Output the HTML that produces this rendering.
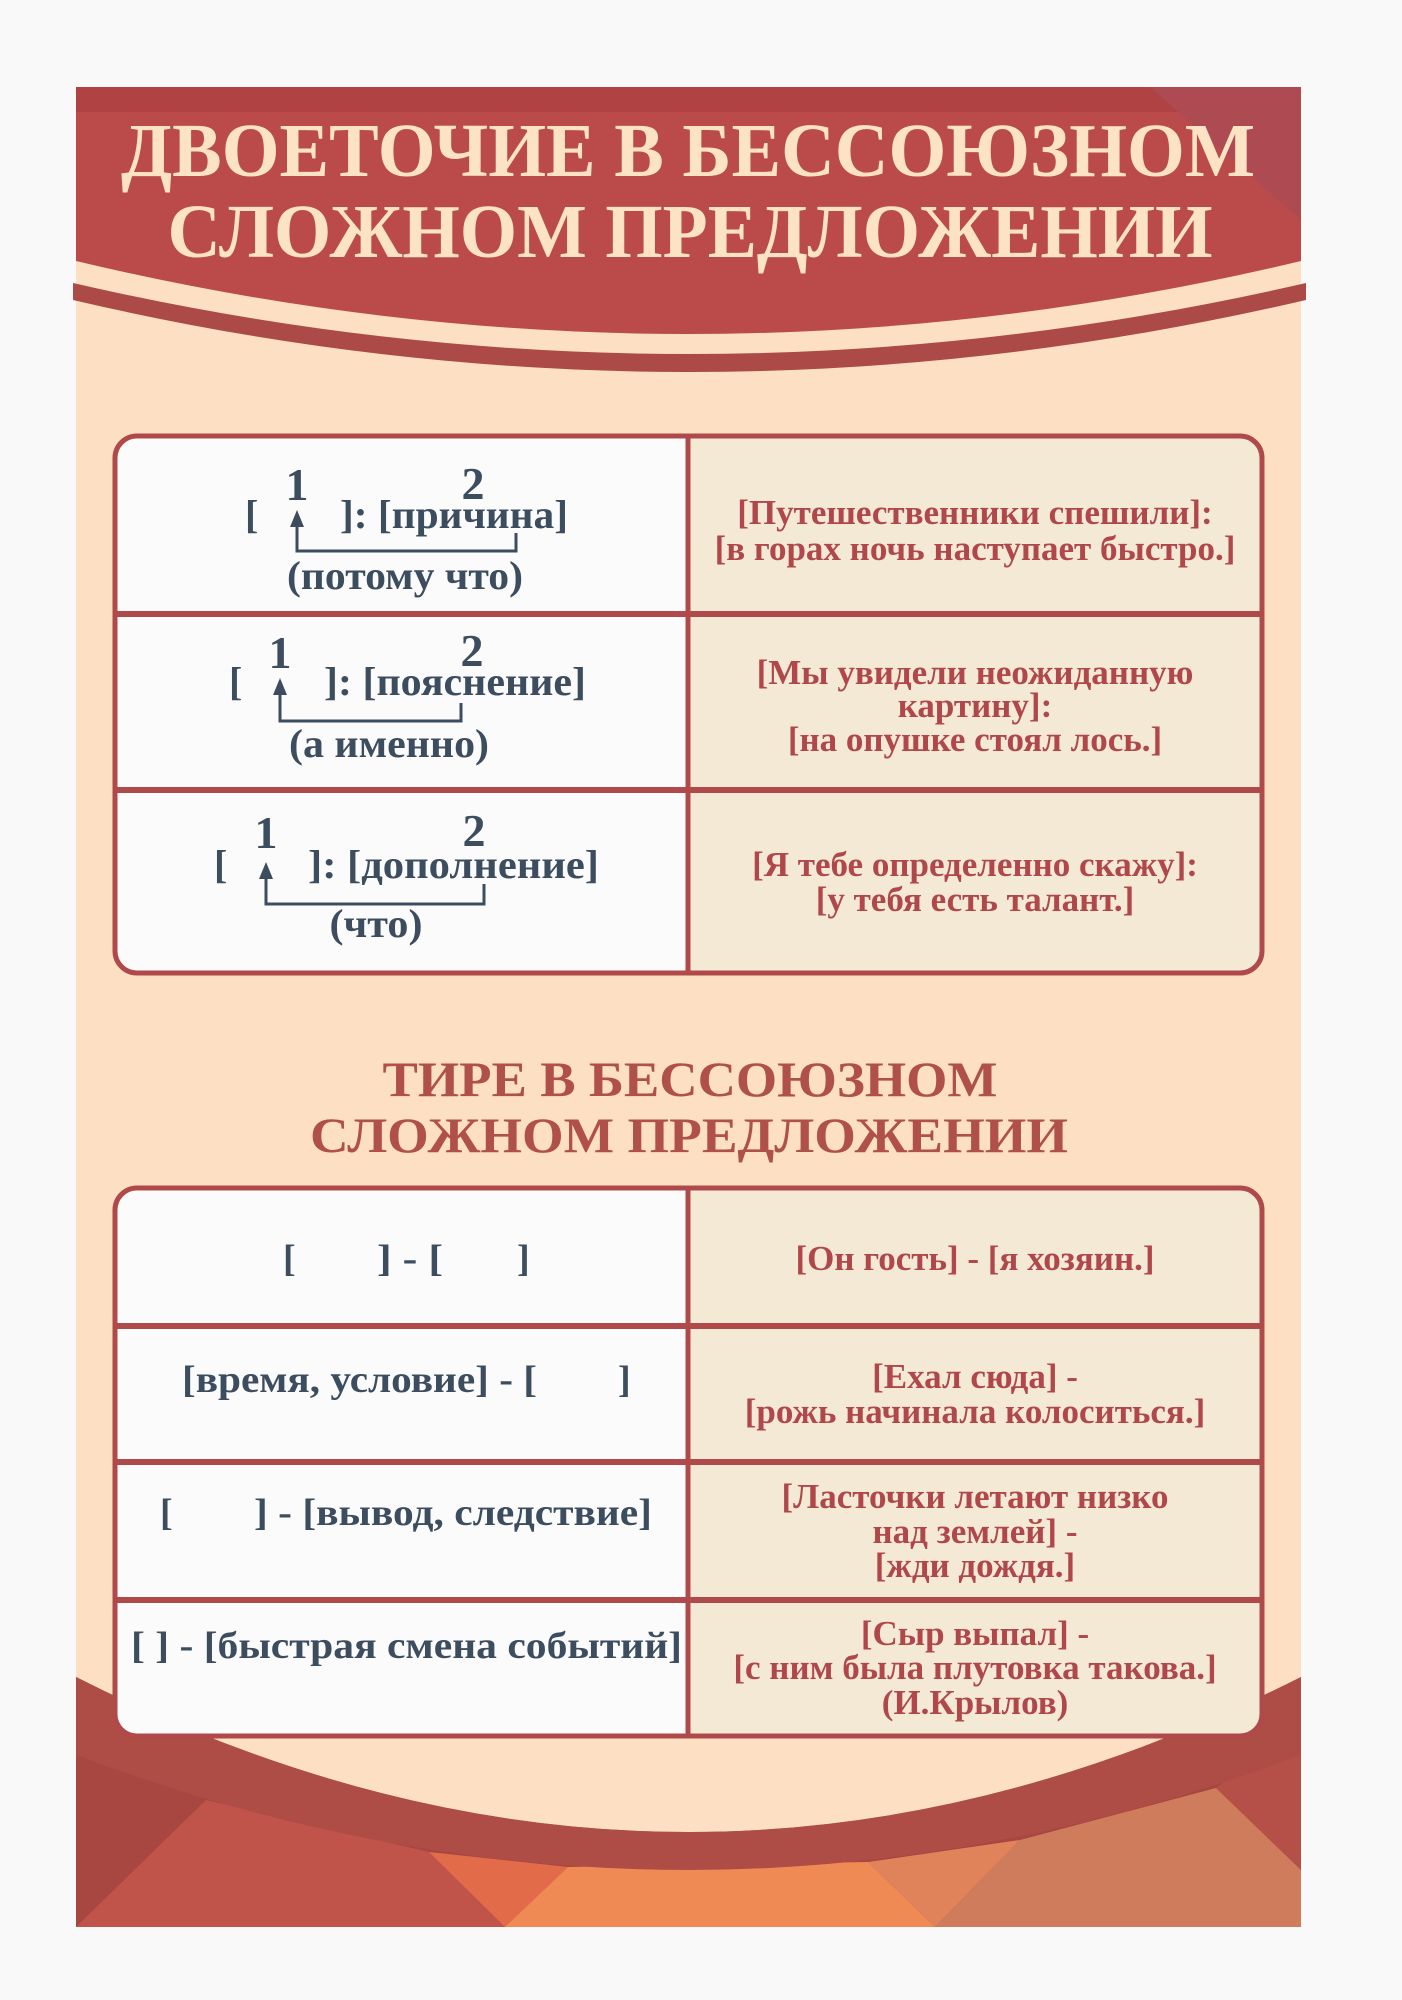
<!DOCTYPE html>
<html><head><meta charset="utf-8"><style>
html,body{margin:0;padding:0;background:#f9f9f9;}
svg{display:block;}
text{font-family:"Liberation Serif",serif;font-weight:bold;}
</style></head><body>
<svg width="1402" height="2000" viewBox="0 0 1402 2000" xmlns="http://www.w3.org/2000/svg">
<defs>
<clipPath id="t1"><rect x="115" y="436" width="1147" height="537" rx="22"/></clipPath>
<clipPath id="t2"><rect x="115" y="1188" width="1147" height="548" rx="22"/></clipPath>
</defs>
<rect x="0" y="0" width="1402" height="2000" fill="#f9f9f9"/>
<rect x="76" y="87" width="1225" height="1840" fill="#fde0c3"/>
<!-- header -->
<path d="M76,87 H1301 V261 Q688,407 76,261 Z" fill="#bb4b4b"/>
<path d="M76,87 H1301 V112 H76 Z" fill="#b14243"/>
<path d="M1150,87 H1301 V220 Z" fill="#ad4a52"/>
<path d="M73,283 Q688,425 1306,283 L1306,300 Q688,444 73,300 Z" fill="#ab4a47"/>
<text x="688" y="176" font-size="76" fill="#fde3c5" text-anchor="middle" textLength="1134" lengthAdjust="spacingAndGlyphs">ДВОЕТОЧИЕ В БЕССОЮЗНОМ</text>
<text x="690" y="257" font-size="76" fill="#fde3c5" text-anchor="middle" textLength="1045" lengthAdjust="spacingAndGlyphs">СЛОЖНОМ ПРЕДЛОЖЕНИИ</text>

<!-- bottom facets -->
<rect x="76" y="1677" width="1225" height="250" fill="#a84642"/>
<polygon points="206,1800 76,1927 505,1927 429,1852" fill="#c0544a"/>
<polygon points="429,1852 505,1927 568,1867" fill="#e26b4a"/>
<polygon points="568,1867 505,1927 935,1927 868,1862" fill="#f08a55"/>
<polygon points="868,1862 935,1927 1020,1840" fill="#e0825a"/>
<polygon points="1020,1840 935,1927 1301,1927 1301,1870 1216,1788" fill="#cf7c5c"/>
<polygon points="1216,1788 1301,1720 1301,1870" fill="#b45048"/>
<path d="M76,1600 L76,1677 Q688,1987 1301,1677 L1301,1600 Z" fill="#fde0c3"/>
<path d="M76,1677 Q688,1987 1301,1677 L1301,1755 Q688,1985 76,1755 Z" fill="#ae4c46"/>

<!-- table 1 -->
<g clip-path="url(#t1)">
<rect x="115" y="436" width="573" height="537" fill="#fbfbfb"/>
<rect x="688" y="436" width="574" height="537" fill="#f3e9d5"/>
</g>
<rect x="115" y="436" width="1147" height="537" rx="22" fill="none" stroke="#b04a4a" stroke-width="5"/>
<line x1="688" y1="436" x2="688" y2="973" stroke="#b04a4a" stroke-width="5"/>
<line x1="115" y1="614" x2="1262" y2="614" stroke="#b04a4a" stroke-width="6"/>
<line x1="115" y1="790" x2="1262" y2="790" stroke="#b04a4a" stroke-width="6"/>

<g fill="#3d4d60" font-size="40">
<text x="297" y="500" font-size="46" text-anchor="middle">1</text>
<text x="473" y="499" font-size="46" text-anchor="middle">2</text>
<text x="245" y="528">[</text>
<text x="340" y="528" textLength="228" lengthAdjust="spacingAndGlyphs">]: [причина]</text>
<text x="405" y="589" text-anchor="middle" textLength="236" lengthAdjust="spacingAndGlyphs">(потому что)</text>
<text x="280" y="668" font-size="46" text-anchor="middle">1</text>
<text x="472" y="666" font-size="46" text-anchor="middle">2</text>
<text x="229" y="695">[</text>
<text x="324" y="695" textLength="262" lengthAdjust="spacingAndGlyphs">]: [пояснение]</text>
<text x="389" y="757" text-anchor="middle" textLength="200" lengthAdjust="spacingAndGlyphs">(а именно)</text>
<text x="266" y="848" font-size="46" text-anchor="middle">1</text>
<text x="474" y="846" font-size="46" text-anchor="middle">2</text>
<text x="214" y="878">[</text>
<text x="308" y="878" textLength="291" lengthAdjust="spacingAndGlyphs">]: [дополнение]</text>
<text x="376" y="937" text-anchor="middle" textLength="93" lengthAdjust="spacingAndGlyphs">(что)</text>
</g>
<g stroke="#3d4d60" stroke-width="3" fill="none">
<polyline points="297,524 297,551 516,551 516,533"/>
<polyline points="280,692 280,721 461,721 461,703"/>
<polyline points="266,876 266,904 484,904 484,884"/>
<polyline points="361,1402 361,1425 580,1425 580,1400"/>
<polyline points="213,1546 213,1568 503,1568 503,1540"/>
<polyline points="152,1680 152,1702 441,1702 441,1674"/>
</g>
<g fill="#3d4d60">
<polygon points="297,510 290,527 304,527"/>
<polygon points="280,678 273,695 287,695"/>
<polygon points="266,862 259,879 273,879"/>
<polygon points="580,1387 572,1405 588,1405"/>
<polygon points="503,1527 495,1545 511,1545"/>
<polygon points="441,1661 433,1679 449,1679"/>
</g>

<g fill="#b0474a" font-size="35" text-anchor="middle">
<text x="975" y="524">[Путешественники спешили]:</text>
<text x="975" y="560">[в горах ночь наступает быстро.]</text>
<text x="975" y="684">[Мы увидели неожиданную</text>
<text x="975" y="717">картину]:</text>
<text x="975" y="751">[на опушке стоял лось.]</text>
<text x="975" y="876">[Я тебе определенно скажу]:</text>
<text x="975" y="911">[у тебя есть талант.]</text>
</g>

<!-- section title -->
<text x="690" y="1096" font-size="50" fill="#b0504a" text-anchor="middle" textLength="615" lengthAdjust="spacingAndGlyphs">ТИРЕ В БЕССОЮЗНОМ</text>
<text x="689" y="1152" font-size="50" fill="#b0504a" text-anchor="middle" textLength="758" lengthAdjust="spacingAndGlyphs">СЛОЖНОМ ПРЕДЛОЖЕНИИ</text>

<!-- table 2 -->
<g clip-path="url(#t2)">
<rect x="115" y="1188" width="573" height="548" fill="#fbfbfb"/>
<rect x="688" y="1188" width="574" height="548" fill="#f3e9d5"/>
</g>
<rect x="115" y="1188" width="1147" height="548" rx="22" fill="none" stroke="#b04a4a" stroke-width="5"/>
<line x1="688" y1="1188" x2="688" y2="1736" stroke="#b04a4a" stroke-width="5"/>
<line x1="115" y1="1326" x2="1262" y2="1326" stroke="#b04a4a" stroke-width="6"/>
<line x1="115" y1="1462" x2="1262" y2="1462" stroke="#b04a4a" stroke-width="6"/>
<line x1="115" y1="1600" x2="1262" y2="1600" stroke="#b04a4a" stroke-width="6"/>

<g fill="#3d4d60" font-size="38">
<text x="283" y="1271">[</text>
<text x="377" y="1271" textLength="66" lengthAdjust="spacingAndGlyphs">] - [</text>
<text x="517" y="1271">]</text>
<text x="182" y="1392" textLength="355" lengthAdjust="spacingAndGlyphs">[время, условие] - [</text>
<text x="618" y="1392">]</text>
<text x="160" y="1525">[</text>
<text x="254" y="1525" textLength="398" lengthAdjust="spacingAndGlyphs">] - [вывод, следствие]</text>
<text x="131" y="1658" textLength="551" lengthAdjust="spacingAndGlyphs">[ ] - [быстрая смена событий]</text>
</g>
<g fill="#b0474a" font-size="35" text-anchor="middle">
<text x="975" y="1270">[Он гость] - [я хозяин.]</text>
<text x="975" y="1388">[Ехал сюда] -</text>
<text x="975" y="1423">[рожь начинала колоситься.]</text>
<text x="975" y="1508">[Ласточки летают низко</text>
<text x="975" y="1543">над землей] -</text>
<text x="975" y="1577">[жди дождя.]</text>
<text x="975" y="1645">[Сыр выпал] -</text>
<text x="975" y="1679">[с ним была плутовка такова.]</text>
<text x="975" y="1714">(И.Крылов)</text>
</g>
</svg>
</body></html>
